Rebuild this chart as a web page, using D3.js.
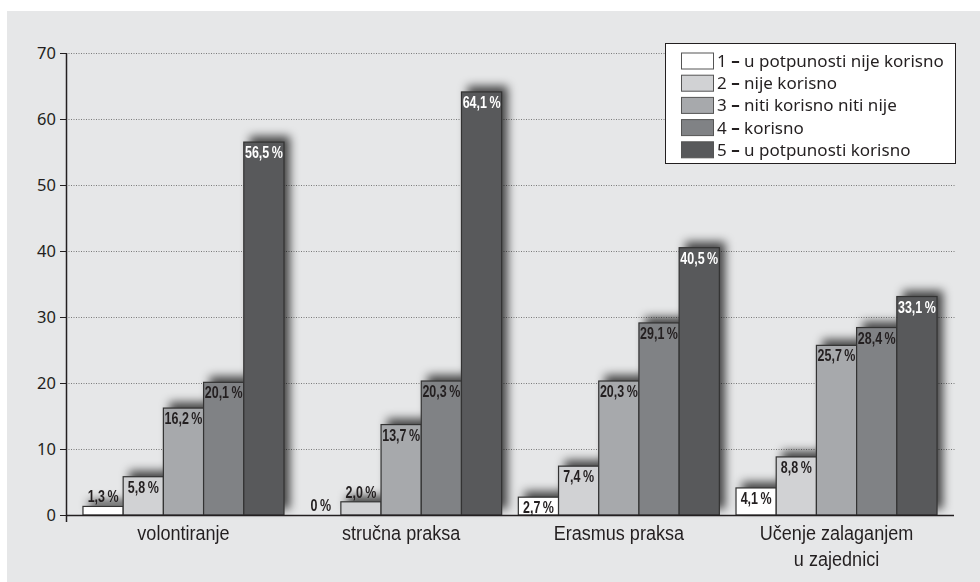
<!DOCTYPE html>
<html>
<head>
<meta charset="utf-8">
<script src="https://cdn.jsdelivr.net/npm/d3@7"></script>
<style>
  body { margin: 0; background: #fff; }
  svg { display: block; }
</style>
</head>
<body>
<div id="chart"></div>
<script>
var categories = [['volontiranje'], ['stručna praksa'], ['Erasmus praksa'], ['Učenje zalaganjem', 'u zajednici']]
var seriesNames = ['1 – u potpunosti nije korisno', '2 – nije korisno', '3 – niti korisno niti nije', '4 – korisno', '5 – u potpunosti korisno']
var colors = ['#ffffff', '#d1d2d4', '#a7a9ac', '#808285', '#58595b']
// values per category, one per series
var values = [
  [1.3, 5.8, 16.2, 20.1, 56.5],
  [0, 2.0, 13.7, 20.3, 64.1],
  [2.7, 7.4, 20.3, 29.1, 40.5],
  [4.1, 8.8, 25.7, 28.4, 33.1]
]
var yTicks = [0, 10, 20, 30, 40, 50, 60, 70]

var width = 980, height = 582
var dark = '#231f20'

var svg = d3.select('#chart').append('svg')
  .attr('width', width)
  .attr('height', height)

svg.append('rect')
  .attr('x', 7).attr('y', 11)
  .attr('width', width - 7).attr('height', height - 11)
  .attr('fill', '#e6e7e8')

var defs = svg.append('defs')
defs.append('filter').attr('id', 'blur')
  .attr('x', '-50%').attr('y', '-50%').attr('width', '200%').attr('height', '200%')
  .append('feGaussianBlur').attr('stdDeviation', 5)

var y = d3.scaleLinear().domain([0, 70]).range([515, 53])

var x0 = d3.scaleBand()
  .domain(d3.range(categories.length))
  .range([66, 954])
  .paddingInner(0.0766)
  .paddingOuter(0.078)

var x1 = d3.scaleBand()
  .domain(d3.range(seriesNames.length))
  .range([0, x0.bandwidth()])

// grid
svg.append('g')
  .selectAll('line')
  .data(yTicks.slice(1))
  .enter().append('line')
  .attr('x1', 66).attr('x2', 956)
  .attr('y1', function(d) { return y(d) + 0.5 })
  .attr('y2', function(d) { return y(d) + 0.5 })
  .attr('stroke', '#7a7a7a')
  .attr('stroke-width', 1)
  .attr('stroke-dasharray', '1,1.5')

var bars = []
values.forEach(function(row, ci) {
  row.forEach(function(v, si) {
    bars.push({ ci: ci, si: si, v: v })
  })
})

// shadows
svg.append('g')
  .attr('filter', 'url(#blur)')
  .selectAll('rect')
  .data(bars.filter(function(d) { return d.v > 0 }))
  .enter().append('rect')
  .attr('x', function(d) { return x0(d.ci) + x1(d.si) + 6 })
  .attr('y', function(d) { return y(d.v) - 6 })
  .attr('width', x1.bandwidth())
  .attr('height', function(d) { return y(0) - y(d.v) })
  .attr('fill', '#000')
  .attr('opacity', 0.7)

svg.append('g')
  .selectAll('rect')
  .data(bars)
  .enter().append('rect')
  .attr('x', function(d) { return x0(d.ci) + x1(d.si) })
  .attr('y', function(d) { return y(d.v) })
  .attr('width', x1.bandwidth())
  .attr('height', function(d) { return y(0) - y(d.v) })
  .attr('fill', function(d) { return colors[d.si] })
  .attr('stroke', '#333')
  .attr('stroke-width', function(d) { return d.v === 0 ? 2 : 1.2 })

function fmt(v) {
  return (v === 0 ? '0' : v.toFixed(1).replace('.', ',')) + '\u2009%'
}

// narrow text: squeeze horizontally
svg.append('g')
  .selectAll('g')
  .data(bars)
  .enter().append('g')
  .attr('transform', function(d) {
    var tx = x0(d.ci) + x1(d.si) + x1.bandwidth() / 2
    var ty = d.v < 2.5 ? y(d.v) - 4 : y(d.v) + 16
    return 'translate(' + tx + ',' + ty + ') scale(0.78,1)'
  })
  .append('text')
  .attr('text-anchor', 'middle')
  .attr('font-family', '"Liberation Sans", sans-serif')
  .attr('font-weight', 'bold')
  .attr('font-size', 16)
  .attr('fill', function(d) { return d.si === 4 ? '#fff' : dark })
  .text(function(d) { return fmt(d.v) })

// y axis
var yAxis = svg.append('g')
  .attr('transform', 'translate(66,0)')
  .call(d3.axisLeft(y).tickValues(yTicks).tickSize(6).tickPadding(4).tickSizeOuter(0))
yAxis.select('.domain').remove()
yAxis.selectAll('line').attr('stroke', dark)
yAxis.selectAll('text')
  .attr('font-family', '"Noto Sans", sans-serif')
  .attr('font-size', 16.5)
  .attr('fill', dark)
svg.append('line')
  .attr('x1', 66.5).attr('x2', 66.5)
  .attr('y1', y(70)).attr('y2', 522)
  .attr('stroke', dark).attr('stroke-width', 1.5)

// x axis
svg.append('line')
  .attr('x1', 66).attr('x2', 954)
  .attr('y1', y(0) + 0.5).attr('y2', y(0) + 0.5)
  .attr('stroke', dark).attr('stroke-width', 1.5)

svg.append('g')
  .selectAll('g')
  .data(categories)
  .enter().append('g')
  .attr('transform', function(d, i) { return 'translate(' + (x0(i) + x0.bandwidth() / 2) + ',540) scale(0.86,1)' })
  .append('text')
  .attr('text-anchor', 'middle')
  .attr('font-family', '"Liberation Sans", sans-serif')
  .attr('font-size', 21)
  .attr('fill', dark)
  .each(function(d) {
    var t = d3.select(this)
    d.forEach(function(line, li) {
      t.append('tspan')
        .attr('x', 0)
        .attr('dy', li === 0 ? 0 : 26)
        .text(line)
    })
  })

// legend
var legend = svg.append('g')
legend.append('rect')
  .attr('x', 665.5).attr('y', 43.5)
  .attr('width', 290).attr('height', 120)
  .attr('fill', '#fff')
  .attr('stroke', dark)
  .attr('stroke-width', 1)

var item = legend.selectAll('.item')
  .data(seriesNames)
  .enter().append('g')
  .attr('transform', function(d, i) { return 'translate(0,' + (61 + i * 22.2) + ')' })

item.append('rect')
  .attr('x', 681.5).attr('y', -8)
  .attr('width', 32).attr('height', 16)
  .attr('fill', function(d, i) { return colors[i] })
  .attr('stroke', '#555')

item.append('text')
  .attr('x', 717)
  .attr('y', 6)
  .attr('font-family', '"Noto Sans", sans-serif')
  .attr('font-size', 17)
  .attr('fill', dark)
  .each(function(d) {
    var t = d3.select(this)
    var parts = d.split(' – ')
    t.append('tspan').text(parts[0] + ' ')
    t.append('tspan').attr('font-weight', 'bold').text('–')
    t.append('tspan').text(' ' + parts[1])
  })
</script>
</body>
</html>
